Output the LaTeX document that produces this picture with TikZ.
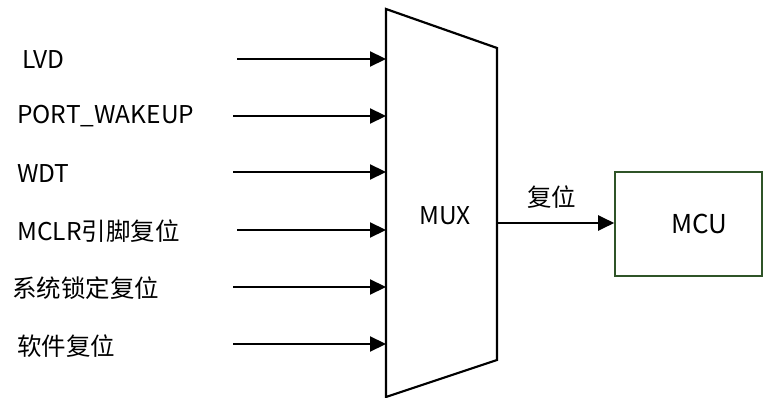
\documentclass[tikz,border=0pt]{standalone}
\usepackage{fontspec}
\setmainfont{Noto Sans CJK SC}
\usepackage{xcolor}
\usetikzlibrary{arrows.meta,positioning}
\definecolor{mcugreen}{RGB}{47,84,40}

\begin{document}
\begin{tikzpicture}[
  x=1pt, y=-1pt,
  lbl/.style={anchor=west, inner sep=0pt, font=\fontsize{24.5}{28}\selectfont},
  arr/.style={line width=2.2pt, -{Triangle[length=16pt,width=15pt]}},
  muxline/.style={line width=2.2pt, line join=miter},
  mcubox/.style={draw=mcugreen, line width=1.6pt, minimum width=147pt, minimum height=104pt,
                 inner sep=0pt, font=\fontsize{26}{30}\selectfont}
]
\useasboundingbox (0,0) rectangle (764,398);

% MUX trapezoid
\coordinate (tl) at (386,9);
\coordinate (tr) at (497,48);
\coordinate (br) at (497,360);
\coordinate (bl) at (386,397);
\draw[muxline] (tl) -- (tr) -- (br) -- (bl) -- cycle;
\node[font=\fontsize{24.5}{28}\selectfont] (mux) at (445,216) {MUX};

% inputs
\node[lbl] (lvd) at (22,60) {LVD};
\node[lbl] (port) at (17,116) {PORT\_WAKEUP};
\node[lbl] (wdt) at (17,174) {WDT};
\node[lbl] (mclr) at (17,231) {MCLR引脚复位};
\node[lbl] (sys) at (12,288) {系统锁定复位};
\node[lbl] (soft) at (17,346) {软件复位};

\coordinate (lvdS) at (237,59);  \coordinate (lvdE) at (386,59);
\coordinate (portS) at (233,116); \coordinate (portE) at (386,116);
\coordinate (wdtS) at (233,172);  \coordinate (wdtE) at (386,172);
\coordinate (mclrS) at (237,230); \coordinate (mclrE) at (386,230);
\coordinate (sysS) at (233,287);  \coordinate (sysE) at (386,287);
\coordinate (softS) at (233,344); \coordinate (softE) at (386,344);

\draw[arr] (lvdS) -- (lvdE);
\draw[arr] (portS) -- (portE);
\draw[arr] (wdtS) -- (wdtE);
\draw[arr] (mclrS) -- (mclrE);
\draw[arr] (sysS) -- (sysE);
\draw[arr] (softS) -- (softE);

% output
\node[mcubox] (mcu) at (688.5,224) {\hspace*{22pt}MCU};
\coordinate (outS) at (497,223);
\draw[arr] (outS) -- (outS -| mcu.west) node[midway, above=10pt, xshift=-4pt, font=\fontsize{24.5}{28}\selectfont] (rst) {复位};
\end{tikzpicture}
\end{document}
